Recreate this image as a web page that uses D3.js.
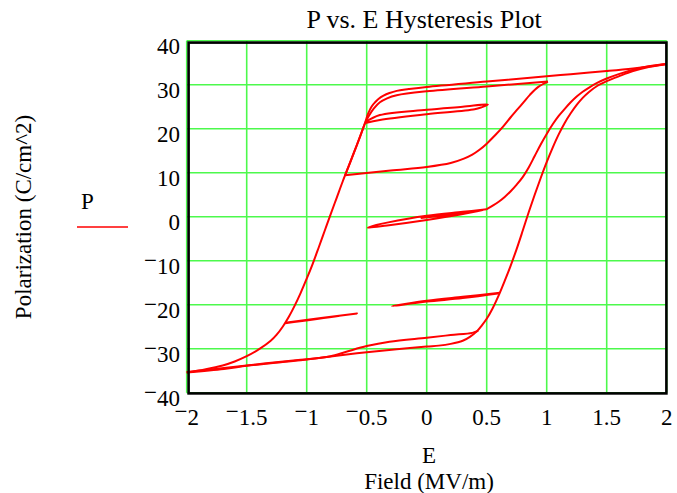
<!DOCTYPE html>
<html>
<head>
<meta charset="utf-8">
<script src="https://cdn.jsdelivr.net/npm/d3@7"></script>
<style>
  body { margin: 0; background: #fff; }
  text { font-family: "Liberation Serif", "Times New Roman", serif; fill: #000; }
</style>
</head>
<body>
<svg id="plot" width="677" height="493"></svg>
<script>
var svg = d3.select("#plot");

// tick values
var eTicks = [-2, -1.5, -1, -0.5, 0, 0.5, 1, 1.5, 2];
var pTicks = [-40, -30, -20, -10, 0, 10, 20, 30, 40];

// traces, [E, P]
var outerUp = [[-2,-35.4],[-1.69,-34.6],[-1.5,-33.9],[-1.3,-33.3],[-1.05,-32.6],[-0.75,-31.6],[-0.5,-30.8],
  [-0.25,-30.1],[0,-29.5],[0.1,-29.3],[0.2,-28.9],[0.3,-28.2],[0.36,-27.3],[0.42,-26],[0.46,-24.7],
  [0.5,-23.2],[0.55,-20.8],[0.6,-17.9],[0.65,-14.6],[0.7,-11.1],[0.75,-7.3],[0.8,-3.2],[0.85,1],
  [0.9,5],[0.95,8.8],[1,12.4],[1.05,15.7],[1.1,18.7],[1.15,21.3],[1.2,23.5],[1.25,25.4],[1.3,27],
  [1.35,28.3],[1.42,29.7],[1.5,30.8],[1.6,31.9],[1.72,33.1],[1.85,34],[2,34.7]];

var innerLow = [[-2,-35.3],[-1.5,-33.8],[-1.05,-32.5],[-0.9,-32.1],[-0.8,-31.7],[-0.67,-30.7],[-0.5,-29.4],
  [-0.31,-28.4],[0,-27.5],[0.2,-26.9],[0.38,-26.4],[0.43,-25.9]];

var outerDown = [[2,34.7],[1.72,33.7],[1.5,33.1],[1.2,32.4],[1,31.9],[0.5,30.7],[0,29.5],[-0.15,29],
  [-0.25,28.6],[-0.31,28.1],[-0.36,27.5],[-0.4,26.8],[-0.43,26],[-0.46,25],[-0.49,23.3],[-0.51,21.6],
  [-0.55,18.6],[-0.6,15],[-0.65,11.5],[-0.7,8],[-0.75,4.3],[-0.8,0.6],[-0.85,-3.2],[-0.9,-7],
  [-0.95,-10.7],[-1,-14.1],[-1.05,-17.3],[-1.1,-20.2],[-1.15,-22.8],[-1.2,-25],[-1.25,-26.8],
  [-1.3,-28.2],[-1.39,-30],[-1.5,-31.7],[-1.6,-32.9],[-1.7,-33.8],[-1.85,-34.7],[-2,-35.4]];

var tipReturn = [[1.01,30.7],[0.5,29.6],[0,28.5],[-0.25,27.6],[-0.33,26.9],[-0.39,26],[-0.44,24.6],
  [-0.48,23],[-0.51,21.5],[-0.55,18.6],[-0.6,15],[-0.65,11.5],[-0.68,9.4]];

var tenLine = [[-0.68,9.4],[-0.3,10.5],[0,11.3],[0.2,12.2],[0.31,13.2],[0.38,14.1],[0.44,15.2],
  [0.5,16.6],[0.57,18.5],[0.64,20.6],[0.7,22.6],[0.75,24.2],[0.81,26.1],[0.86,27.7],[0.93,29.5],[1.01,30.7]];

var loop25 = [[-0.51,21.5],[-0.39,23.1],[0,24.3],[0.3,25],[0.51,25.5],[0.46,24.9],[0.4,24.4],
  [0,23.3],[-0.39,22],[-0.51,21.3]];

var midLoop = [[-0.05,-0.3],[0.25,0.6],[0.5,1.7],[0.28,0.5],[0,-0.75],[-0.33,-2.0],[-0.49,-2.5],
  [-0.42,-1.9],[-0.33,-1.35],[0,0.2],[0.3,1.1],[0.5,1.7]];

var innerUp = [[0.5,1.7],[0.55,2.5],[0.6,3.4],[0.65,4.5],[0.7,5.8],[0.75,7.3],[0.8,9],[0.85,11.2],
  [0.9,13.8],[0.95,16.4],[1,18.8],[1.05,21],[1.1,22.9],[1.15,24.5],[1.2,26],[1.25,27.3],[1.3,28.4],
  [1.35,29.3],[1.42,30.4],[1.5,31.4],[1.6,32.4],[1.72,33.4],[1.85,34.2],[2,34.7]];

var lowLoop = [[0.61,-17.4],[0.3,-18.5],[0,-19.3],[-0.29,-20.3],[0,-19.1],[0.3,-18.2],[0.61,-17.3]];

var leftLoop = [[-1.18,-24.2],[-0.58,-22.0],[-1.18,-24.1]];

var traces = [outerUp, innerLow, outerDown, tipReturn, tenLine, loop25, midLoop, innerUp, lowLoop, leftLoop];

var eScale = d3.scaleLinear().domain([-2, 2]).range([186.7, 666.7]);
var pScale = d3.scaleLinear().domain([-40, 40]).range([392.7, 40.7]);

// grid
svg.append("g").selectAll("line").data(eTicks).enter().append("line")
  .attr("x1", function (d) { return eScale(d); })
  .attr("x2", function (d) { return eScale(d); })
  .attr("y1", pScale(40)).attr("y2", pScale(-40))
  .style("stroke", "#4cf94c").style("stroke-width", 1.6);

svg.append("g").selectAll("line").data(pTicks).enter().append("line")
  .attr("x1", eScale(-2)).attr("x2", eScale(2))
  .attr("y1", function (d) { return pScale(d); })
  .attr("y2", function (d) { return pScale(d); })
  .style("stroke", "#4cf94c").style("stroke-width", 1.6);

// curves
var line = d3.line()
  .x(function (d) { return eScale(d[0]); })
  .y(function (d) { return pScale(d[1]); })
  .curve(d3.curveCatmullRom.alpha(0.5));

svg.append("g").selectAll("path").data(traces).enter().append("path")
  .attr("d", line)
  .style("fill", "none")
  .style("stroke", "#ff0000")
  .style("stroke-width", 2)
  .style("stroke-linejoin", "round");

// frame
svg.append("rect")
  .attr("x", 188.6).attr("y", 42.6)
  .attr("width", 477.8).attr("height", 350.8)
  .style("fill", "none").style("stroke", "#000").style("stroke-width", 2.6);

// tick labels with the raised minus
function label(sel, v) {
  if (v < 0) {
    sel.append("tspan").attr("dy", -6).text("\u2212");
    sel.append("tspan").attr("dy", 6).text(Math.abs(v));
  } else {
    sel.text(v);
  }
}

pTicks.forEach(function (v) {
  var t = svg.append("text")
    .attr("x", 180).attr("y", pScale(v) + 13.5)
    .attr("text-anchor", "end")
    .style("font-size", "23px");
  label(t, v);
});

eTicks.forEach(function (v) {
  var t = svg.append("text")
    .attr("x", eScale(v)).attr("y", 425)
    .attr("text-anchor", "middle")
    .style("font-size", "23px");
  label(t, v);
});

// title and axis titles
svg.append("text")
  .attr("x", 424).attr("y", 28)
  .attr("text-anchor", "middle")
  .style("font-size", "26px")
  .text("P vs. E Hysteresis Plot");

svg.append("text")
  .attr("x", 429).attr("y", 463)
  .attr("text-anchor", "middle")
  .style("font-size", "23px")
  .text("E");

svg.append("text")
  .attr("x", 429).attr("y", 489)
  .attr("text-anchor", "middle")
  .style("font-size", "23px")
  .text("Field (MV/m)");

svg.append("text")
  .attr("transform", "translate(31,217)rotate(-90)")
  .attr("text-anchor", "middle")
  .style("font-size", "23px")
  .text("Polarization (C/cm^2)");

// legend
svg.append("text")
  .attr("x", 81).attr("y", 209)
  .style("font-size", "23px")
  .text("P");

svg.append("line")
  .attr("x1", 77).attr("x2", 128)
  .attr("y1", 227).attr("y2", 227)
  .style("stroke", "#ff0000").style("stroke-width", 1.6);
</script>
</body>
</html>
